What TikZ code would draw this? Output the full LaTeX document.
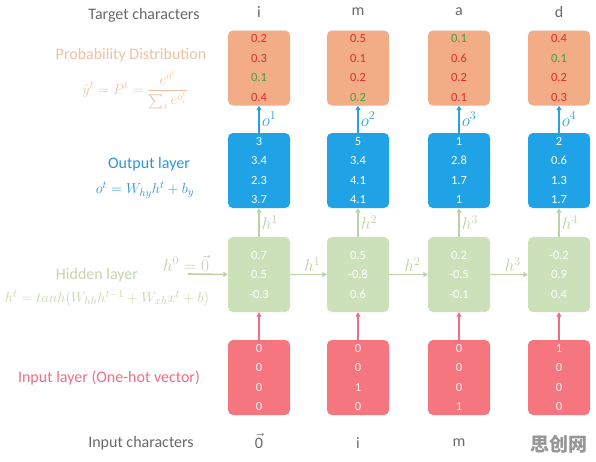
\documentclass[tikz,border=0pt]{standalone}
\usepackage{amsmath}
\usepackage{fontspec}
\setmainfont{Carlito}
\newfontfamily\cjkwm{Noto Sans CJK SC}
\usetikzlibrary{arrows.meta}
\definecolor{probfill}{RGB}{242,172,134}
\definecolor{outfill}{RGB}{32,163,230}
\definecolor{hidfill}{RGB}{204,224,186}
\definecolor{infill}{RGB}{246,118,128}
\definecolor{vred}{RGB}{222,45,45}
\definecolor{vgreen}{RGB}{70,160,60}
\definecolor{problab}{RGB}{243,192,162}
\definecolor{outlab}{RGB}{45,150,215}
\definecolor{hidlab}{RGB}{195,215,170}
\definecolor{inlab}{RGB}{236,112,135}
\definecolor{arrblue}{RGB}{40,160,225}
\definecolor{arrgreen}{RGB}{188,210,165}
\definecolor{arrpink}{RGB}{235,110,130}
\definecolor{graytext}{RGB}{105,105,105}
\definecolor{wmgray}{RGB}{150,150,150}
\tikzset{
  cell/.style={rounded corners=5pt, minimum width=62pt, minimum height=75pt, inner sep=0pt, align=center, font=\fontsize{12.5}{19.5}\selectfont},
  probbox/.style={cell, fill=probfill},
  outbox/.style={cell, fill=outfill, text=white},
  hidbox/.style={cell, fill=hidfill, text=white},
  inbox/.style={cell, fill=infill, text=white!90!infill},
  chartext/.style={font=\fontsize{16}{18}\selectfont, text=graytext},
  laytext/.style={font=\fontsize{16}{18}\selectfont},
  mathtext/.style={font=\fontsize{15}{17}\selectfont},
  arr/.style={line width=1.6pt, -{Triangle[width=5pt,length=4.5pt]}},
  blarr/.style={arr, draw=arrblue},
  grarr/.style={arr, draw=arrgreen},
  pkarr/.style={arr, draw=arrpink},
  arrlab/.style={font=\fontsize{17}{18}\selectfont, inner sep=2pt}
}
\begin{document}
\begin{tikzpicture}[x=1pt,y=-1pt]
\fill[white] (0,0) rectangle (596,461);
\useasboundingbox (0,0) rectangle (596,461);

% left labels
\node[chartext] (tc) at (144,15) {Target characters};
\node[laytext, text=problab] (pdl) at (131,55) {Probability Distribution};
\node[mathtext, text=problab] (pdf) at (135,90) {$\displaystyle \hat{y}^t = P^t = \frac{e^{o^t}}{\sum_i e^{o^t_i}}$};
\node[laytext, text=outlab] (oll) at (149,164) {Output layer};
\node[mathtext, text=outlab] (olf) at (145,190) {$o^t = W_{hy}h^t + b_y$};
\node[laytext, text=hidlab] (hll) at (97,275) {Hidden layer};
\node[mathtext, text=hidlab] (hlf) at (107,298) {$h^t = tanh(W_{hh}h^{t-1} + W_{xh}x^t + b)$};
\node[laytext, text=inlab] (ill) at (109,378) {Input layer (One-hot vector)};
\node[chartext] (ic) at (141,443) {Input characters};

% target characters
\node[chartext] (t1) at (259,12) {i};
\node[chartext] (t2) at (358,12) {m};
\node[chartext] (t3) at (459,12) {a};
\node[chartext] (t4) at (559,12) {d};

% input characters
\node[chartext] (c1) at (259,441) {$\vec{\text{0}}$};
\node[chartext] (c2) at (358,443) {i};
\node[chartext] (c3) at (459,443) {m};
\node[font=\cjkwm\bfseries\fontsize{19}{20}\selectfont, text=wmgray] (wm) at (559,444) {思创网};

% probability boxes
\node[probbox] (p1) at (259,68) {\textcolor{vred}{0.2}\\\textcolor{vred}{0.3}\\\textcolor{vgreen}{0.1}\\\textcolor{vred}{0.4}};
\node[probbox] (p2) at (358,68) {\textcolor{vred}{0.5}\\\textcolor{vred}{0.1}\\\textcolor{vred}{0.2}\\\textcolor{vgreen}{0.2}};
\node[probbox] (p3) at (459,68) {\textcolor{vgreen}{0.1}\\\textcolor{vred}{0.6}\\\textcolor{vred}{0.2}\\\textcolor{vred}{0.1}};
\node[probbox] (p4) at (559,68) {\textcolor{vred}{0.4}\\\textcolor{vgreen}{0.1}\\\textcolor{vred}{0.2}\\\textcolor{vred}{0.3}};

% output boxes
\node[outbox] (o1) at (259,170.5) {3\\3.4\\2.3\\3.7};
\node[outbox] (o2) at (358,170.5) {5\\3.4\\4.1\\4.1};
\node[outbox] (o3) at (459,170.5) {1\\2.8\\1.7\\1};
\node[outbox] (o4) at (559,170.5) {2\\0.6\\1.3\\1.7};

% hidden boxes
\node[hidbox] (h1) at (259,274.5) {0.7\\0.5\\-0.3};
\node[hidbox] (h2) at (358,274.5) {0.5\\-0.8\\0.6};
\node[hidbox] (h3) at (459,274.5) {0.2\\-0.5\\-0.1};
\node[hidbox] (h4) at (559,274.5) {-0.2\\0.9\\0.4};

% input boxes
\node[inbox] (x1) at (259,377.5) {0\\0\\0\\0};
\node[inbox] (x2) at (358,377.5) {0\\0\\1\\0};
\node[inbox] (x3) at (459,377.5) {0\\0\\0\\1};
\node[inbox] (x4) at (559,377.5) {1\\0\\0\\0};

% arrows
\foreach \i in {1,2,3,4}{
  \draw[blarr] (o\i.north) -- node[arrlab, right, text=arrblue] {$o^{\i}$} (p\i.south);
  \draw[grarr] (h\i.north) -- node[arrlab, right, text=arrgreen] {$h^{\i}$} (o\i.south);
  \draw[pkarr] ([yshift=-3pt]x\i.north) -- (h\i.south);
}
\foreach \i/\j in {1/2,2/3,3/4}{
  \draw[grarr] (h\i.east) -- node[arrlab, above, pos=0.6, text=arrgreen] {$h^{\i}$} (h\j.west);
}
\coordinate (h0s) at (188,274);
\node[arrlab, text=arrgreen] (h0l) at (186,263) {$h^0 = \vec{0}$};
\draw[grarr] (h0s) -- (h1.west);
\end{tikzpicture}
\end{document}
